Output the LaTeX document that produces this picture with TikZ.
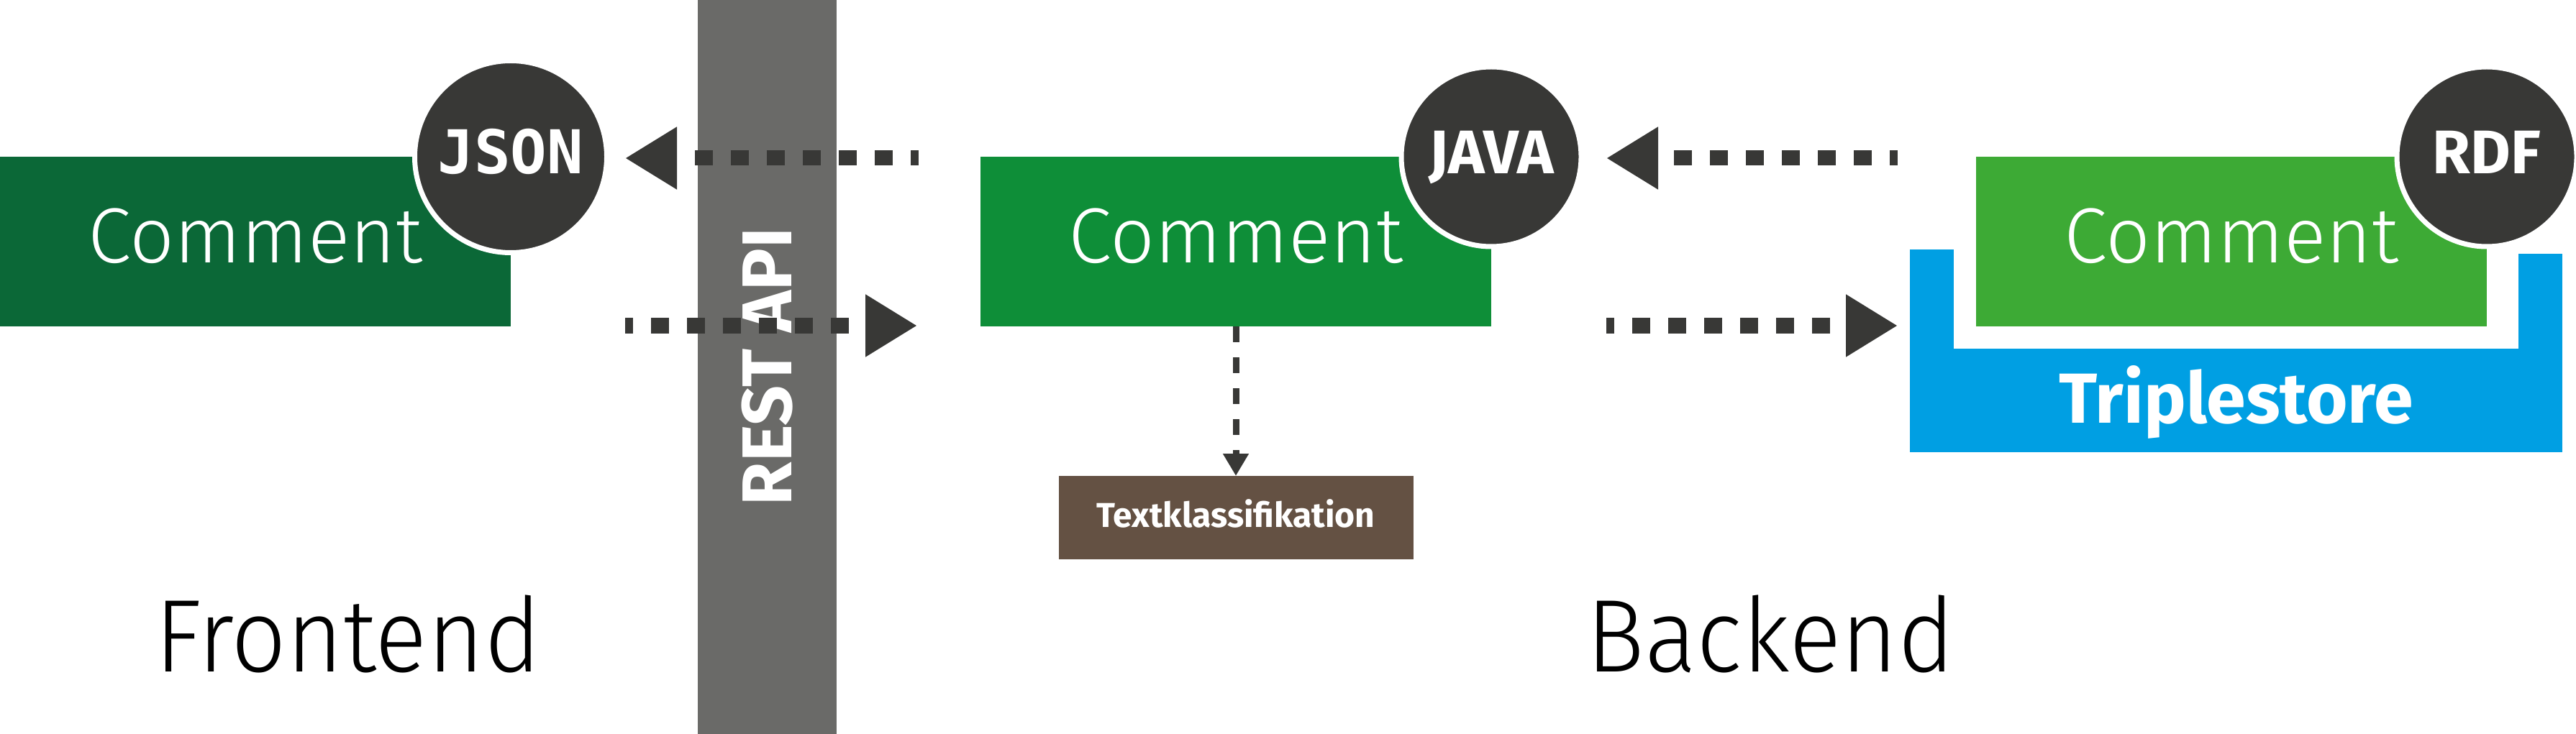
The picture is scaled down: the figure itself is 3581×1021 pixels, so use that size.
\documentclass[tikz,border=0pt]{standalone}
\usepackage{fontspec}
\setmainfont{Fira Sans}
\newfontfamily\lightfont{Fira Sans Light}
\newfontfamily\sidefont{Fira Sans Light}[FakeStretch=0.94]
\newfontfamily\jsonfont{DejaVu Sans Mono}
\usetikzlibrary{arrows.meta}
\usetikzlibrary{positioning}
\definecolor{frontgreen}{HTML}{0B6837}
\definecolor{backgreen}{HTML}{0E8E38}
\definecolor{rdfgreen}{HTML}{3DAA35}
\definecolor{darkgrey}{HTML}{383836}
\definecolor{apigrey}{HTML}{6A6A68}
\definecolor{classbrown}{HTML}{645143}
\definecolor{storeblue}{HTML}{009FE3}

\begin{document}
\begin{tikzpicture}[x=0.5pt,y=-0.5pt]
  \tikzset{comment/.style = {shape=rectangle,minimum width=355pt,minimum height=118pt,inner sep=0pt,outer sep=0pt,text=white,font=\lightfont\fontsize{54.4}{60}\selectfont,text height=37.5pt,text depth=7.5pt}}
  \tikzset{format/.style = {shape=circle,fill=darkgrey,draw=white,line width=3.5pt,minimum size=125pt,inner sep=0pt,text=white,font=\bfseries\fontsize{42.8}{48}\selectfont,text height=29.5pt,text depth=5.5pt}}
  \tikzset{dotline/.style = {draw=darkgrey,line width=10.5pt,dash pattern=on 12.5pt off 12.5pt,dash phase=7pt,-{Triangle[length=36pt,width=41pt]}}}
  \tikzset{classline/.style = {draw=darkgrey,line width=4.5pt,dash pattern=on 11pt off 10.5pt,-{Triangle[length=15.5pt,width=17pt]}}}
  \tikzset{side/.style = {font=\sidefont\fontsize{71.8}{80}\selectfont,anchor=base,inner sep=0pt}}

  \useasboundingbox (0,0) rectangle (3581,1021);
  \fill[apigrey] (970,0) rectangle (1163,1021);

  \node[comment,fill=frontgreen] (fcomment) at (355,336) {Comment};
  \node[comment,fill=backgreen] (mcomment) at (1718,336) {Comment};
  \node[comment,fill=rdfgreen] (rcomment) at (3102,336) {Comment};

  \node[shape=rectangle,fill=classbrown,minimum width=246.5pt,minimum height=58pt,inner sep=0pt,outer sep=0pt,text=white,font=\bfseries\fontsize{24}{28}\selectfont,text height=16.5pt,text depth=3.5pt] (classify) at (1718,720) {Textklassifikation};

  \node[shape=rectangle,fill=storeblue,minimum width=453.5pt,minimum height=72pt,inner sep=0pt,outer sep=0pt,text=white,font=\bfseries\fontsize{49.3}{55}\selectfont,text height=34pt,text depth=3pt] (store) at (3108.5,557) {Triplestore};
  \fill[storeblue] (store.north west) rectangle ++(61,-138);
  \fill[storeblue] (store.north east) rectangle ++(-61,-132);

  \node[format,minimum size=133.5pt,font=\jsonfont\bfseries\fontsize{42}{48}\selectfont] (json) at (fcomment.north east) {JSON};
  \node[format] (java) at (mcomment.north east) {JAVA};
  \node[format] (rdf) at (rcomment.north east) {RDF};

  \node[rotate=90,inner sep=0pt,text=white,font=\bfseries\fontsize{49}{55}\selectfont,text height=34pt,text depth=0pt] (api) at (1066,510) {REST API};

  \node[side] (front) at (483.5,934) {Frontend};
  \node[side] (back) at (2461.5,934) {Backend};

  \coordinate (apiout) at (1277,220);
  \coordinate (jsonin) at (869,220);
  \coordinate (jsonout) at (869,453);
  \coordinate (apiin) at (1275,453);
  \coordinate (rdfout) at (2638,220);
  \coordinate (javain) at (2233,220);
  \coordinate (javaout) at (2233,453);
  \coordinate (rdfin) at (2638,453);

  \foreach \from/\to in {apiout/jsonin, jsonout/apiin, rdfout/javain, javaout/rdfin}
  \draw[dotline] (\from) -- (\to);

  \draw[classline] (mcomment.south) -- (classify.north);

\end{tikzpicture}
\end{document}
